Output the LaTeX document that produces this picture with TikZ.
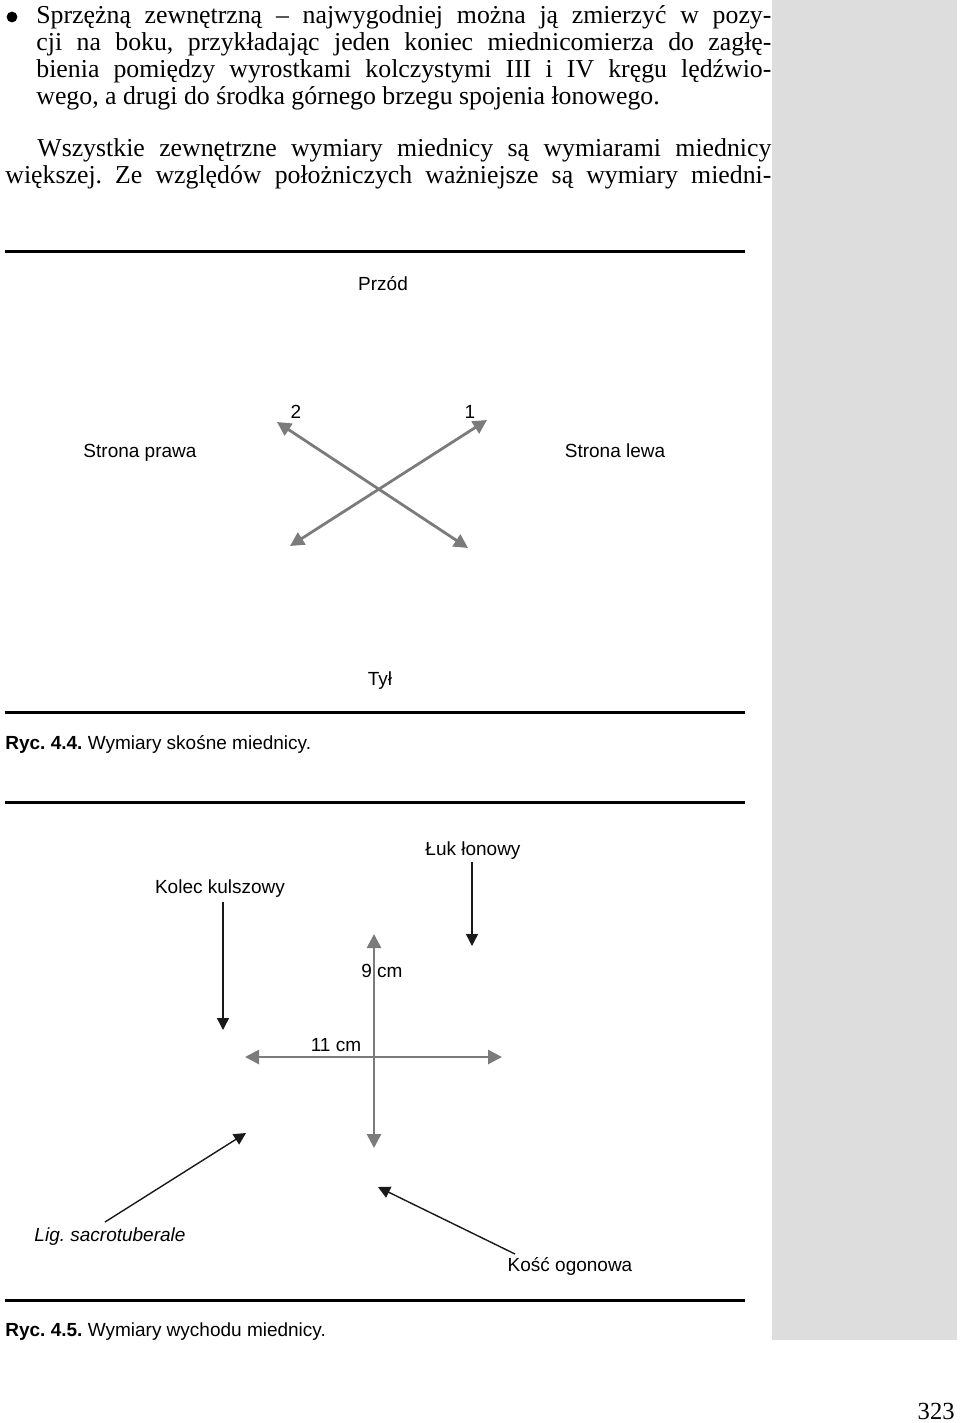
\documentclass[tikz,border=0pt]{standalone}
\usepackage{fontspec}
\setmainfont{Liberation Serif}
\setsansfont{Liberation Sans}
\usetikzlibrary{arrows.meta}
\definecolor{bandgray}{HTML}{DDDDDD}
\definecolor{arrowgray}{HTML}{7B7B7B}
\frenchspacing
\newcommand\txtline[2]{\hbox to #1{\spaceskip=0.25em plus 0.8em minus 0.15em\relax #2}}
\begin{document}
\begin{tikzpicture}[x=0.5pt,y=-0.5pt,
  body/.style={font=\fontsize{12.9}{13.4}\selectfont,inner sep=0pt,anchor=base west},
  lab/.style={font=\sffamily\fontsize{9.5}{11}\selectfont,inner sep=0pt,anchor=base},
  capt/.style={lab,anchor=base west},
  rule/.style={line width=1.5pt},
  dim/.style={arrowgray,line width=1.4pt,{Triangle[length=7pt,width=7pt]}-{Triangle[length=7pt,width=7pt]}},
  ptr/.style={black!90,line width=0.7pt,-{Triangle[length=6pt,width=6pt]}}]
\useasboundingbox (0,0) rectangle (960,1423);
\fill[bandgray] (772,0) rectangle (957,1340);
% text above the figures
\fill (12,17) circle[radius=2.7pt];
\node[body] (line1) at (36,24) {\txtline{367.5pt}{Sprzężną zewnętrzną – najwygodniej można ją zmierzyć w pozy-}};
\node[body] (line2) at (36,51) {\txtline{367.5pt}{cji na boku, przykładając jeden koniec miednicomierza do zagłę-}};
\node[body] (line3) at (36,78) {\txtline{367.5pt}{bienia pomiędzy wyrostkami kolczystymi III i IV kręgu lędźwio-}};
\node[body] (line4) at (36,105) {wego, a drugi do środka górnego brzegu spojenia łonowego.};
\node[body] (line5) at (37,157) {\txtline{367pt}{Wszystkie zewnętrzne wymiary miednicy są wymiarami miednicy}};
\node[body] (line6) at (5,184) {\txtline{383pt}{większej. Ze względów położniczych ważniejsze są wymiary miedni-}};
% Ryc. 4.4
\draw[rule] (5,252) -- (745,252);
\node[lab] (przod) at (383,291) {Przód};
\node[lab] (prawa) at (140,457) {Strona prawa};
\node[lab] (lewa) at (615,457) {Strona lewa};
\node[lab] (tyl) at (380,685) {Tył};
\coordinate (d1a) at (290,546);
\coordinate (d1b) at (487,420);
\coordinate (d2a) at (468,548);
\coordinate (d2b) at (277,422);
\draw[dim] (d1a) -- (d1b);
\draw[dim] (d2a) -- (d2b);
\node[lab] (n2) at (296,418) {2};
\node[lab] (n1) at (470,418) {1};
\draw[rule] (5,712) -- (745,712);
\node[capt] (ryc4) at (5,749) {\textbf{Ryc. 4.4.} Wymiary skośne miednicy.};
% Ryc. 4.5
\draw[rule] (5,802) -- (745,802);
\node[lab] (luk) at (473,855) {Łuk łonowy};
\node[lab] (kolec) at (220,893) {Kolec kulszowy};
\coordinate (kolecA) at (223,902);
\coordinate (kolecB) at (223,1030);
\coordinate (lukA) at (472,862);
\coordinate (lukB) at (472,946);
\draw[ptr] (kolecA) -- (kolecB);
\draw[ptr] (lukA) -- (lukB);
\coordinate (v1) at (374,934);
\coordinate (v2) at (374,1148);
\coordinate (h1) at (245,1057);
\coordinate (h2) at (502,1057);
\draw[dim] (v1) -- (v2);
\draw[dim] (h1) -- (h2);
\node[lab] (nine) at (382,977) {9 cm};
\node[lab] (eleven) at (336,1051) {11 cm};
\node[lab,font=\sffamily\itshape\fontsize{9.5}{11}\selectfont] (lig) at (110,1241) {Lig. sacrotuberale};
\node[lab] (kosc) at (570,1271) {Kość ogonowa};
\coordinate (ligA) at (105,1222);
\coordinate (ligB) at (246,1133);
\coordinate (koscA) at (515,1254);
\coordinate (koscB) at (378,1187);
\draw[ptr] (ligA) -- (ligB);
\draw[ptr] (koscA) -- (koscB);
\draw[rule] (5,1300) -- (745,1300);
\node[capt] (ryc5) at (5,1336) {\textbf{Ryc. 4.5.} Wymiary wychodu miednicy.};
% page number
\node[inner sep=0pt,anchor=base east,font=\fontsize{12.3}{13.4}\selectfont] (page) at (955,1419) {323};
\end{tikzpicture}
\end{document}
